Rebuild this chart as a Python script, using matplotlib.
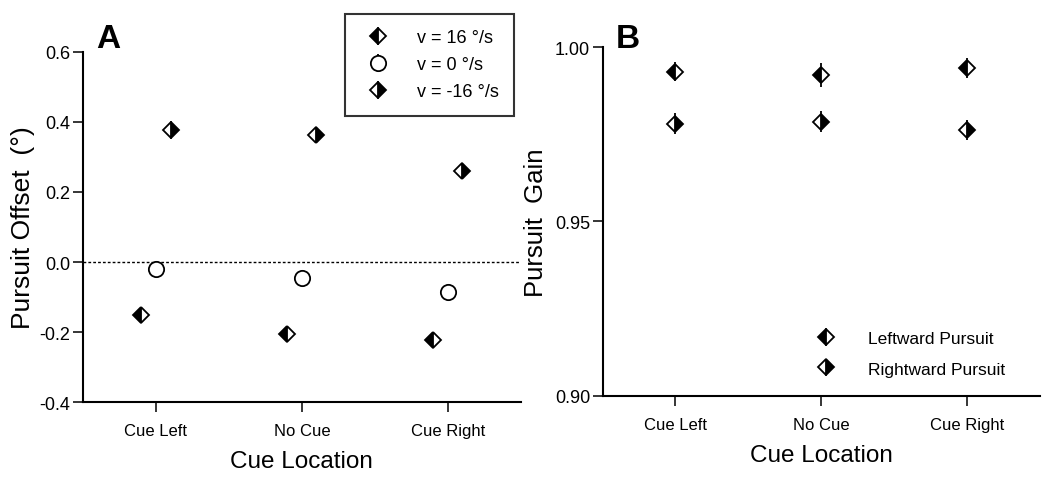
import matplotlib
matplotlib.use("Agg")
import matplotlib.pyplot as plt
import numpy as np

plt.rcParams['font.family'] = ['Liberation Sans', 'DejaVu Sans']
plt.rcParams['axes.unicode_minus'] = False

categories = ['Cue Left', 'No Cue', 'Cue Right']

# panel A: pursuit offset (deg)
offset_v16 = [-0.151, -0.206, -0.223]
offset_v16_err = [0.01, 0.01, 0.01]
offset_v0 = [-0.020, -0.045, -0.085]
offset_v0_err = [0.005, 0.005, 0.005]
offset_vm16 = [0.377, 0.363, 0.260]
offset_vm16_err = [0.025, 0.02, 0.02]

# panel B: pursuit gain
gain_left = [0.993, 0.992, 0.994]
gain_left_err = [0.0026, 0.0033, 0.0028]
gain_right = [0.978, 0.9786, 0.9763]
gain_right_err = [0.003, 0.003, 0.0028]

x = np.arange(1, len(categories) + 1)

fig = plt.figure(figsize=(10.5, 4.81), dpi=100)
axA = fig.add_axes([0.079, 0.162, 0.417, 0.728])
axB = fig.add_axes([0.574, 0.175, 0.416, 0.725])

dmk = dict(marker='D', markersize=8.5, markeredgecolor='black',
           markeredgewidth=1.3, markerfacecolor='black',
           markerfacecoloralt='white', linestyle='none',
           ecolor='black', elinewidth=1.3, capsize=0)

axA.axhline(0, color='black', linestyle=(0, (2, 1.5)), linewidth=1.0, zorder=1)
axA.errorbar(x - 0.1, offset_v16, yerr=offset_v16_err, fillstyle='left',
             label='v = 16 °/s', **dmk)
axA.errorbar(x, offset_v0, yerr=offset_v0_err, marker='o', markersize=11,
             markerfacecolor='white', markeredgecolor='black',
             markeredgewidth=1.3, linestyle='none', ecolor='black',
             elinewidth=1.3, capsize=0, label='v = 0 °/s')
axA.errorbar(x + 0.1, offset_vm16, yerr=offset_vm16_err, fillstyle='right',
             label='v = -16 °/s', **dmk)

axA.set_xlim(0.5, 3.5)
axA.set_ylim(-0.4, 0.6)
axA.set_yticks([-0.4, -0.2, 0.0, 0.2, 0.4, 0.6])
axA.set_yticklabels(['-0.4', '-0.2', '0.0', '0.2', '0.4', '0.6'])
axA.set_ylabel('Pursuit Offset  (°)', fontsize=19, labelpad=3)

axB.errorbar(x, gain_left, yerr=gain_left_err, fillstyle='left',
             label='Leftward Pursuit', **dmk)
axB.errorbar(x, gain_right, yerr=gain_right_err, fillstyle='right',
             label='Rightward Pursuit', **dmk)
axB.set_xlim(0.5, 3.5)
axB.set_ylim(0.90, 1.00)
axB.set_yticks([0.90, 0.95, 1.00])
axB.set_yticklabels(['0.90', '0.95', '1.00'])
axB.set_ylabel('Pursuit  Gain', fontsize=18.5, labelpad=5)

for ax in (axA, axB):
    ax.set_xticks(x)
    ax.set_xticklabels(categories, fontsize=12)
    ax.set_xlabel('Cue Location', fontsize=17.5, labelpad=9)
    ax.spines['top'].set_visible(False)
    ax.spines['right'].set_visible(False)
    ax.spines['left'].set_linewidth(1.5)
    ax.spines['bottom'].set_linewidth(1.5)
    ax.tick_params(axis='both', direction='out', length=7, width=1.1)
    ax.tick_params(axis='x', pad=8)
    ax.tick_params(axis='y', labelsize=13, pad=2)

hA, lA = axA.get_legend_handles_labels()
legA = axA.legend(hA, lA, loc='upper left',
                  bbox_to_anchor=(345 / 1050, 1 - 15 / 481),
                  bbox_transform=fig.transFigure, fontsize=13,
                  frameon=True, fancybox=False, borderpad=0.85,
                  handlelength=1.9, handletextpad=1.25, labelspacing=0.55,
                  borderaxespad=0)
legA.get_frame().set_edgecolor('black')
legA.get_frame().set_linewidth(1.5)

hB, lB = axB.get_legend_handles_labels()
axB.legend(hB, lB, loc='upper left',
           bbox_to_anchor=(802 / 1050, 1 - 325 / 481),
           bbox_transform=fig.transFigure, borderaxespad=0,
           fontsize=12.5, frameon=False, handlelength=2.0,
           handletextpad=1.4, labelspacing=0.88)

fig.text(108 / 1050, 1 - 40 / 481, 'A', fontsize=24, fontweight='bold',
         ha='center', va='center')
fig.text(628 / 1050, 1 - 40 / 481, 'B', fontsize=24, fontweight='bold',
         ha='center', va='center')

fig.savefig('out.png', dpi=100)
